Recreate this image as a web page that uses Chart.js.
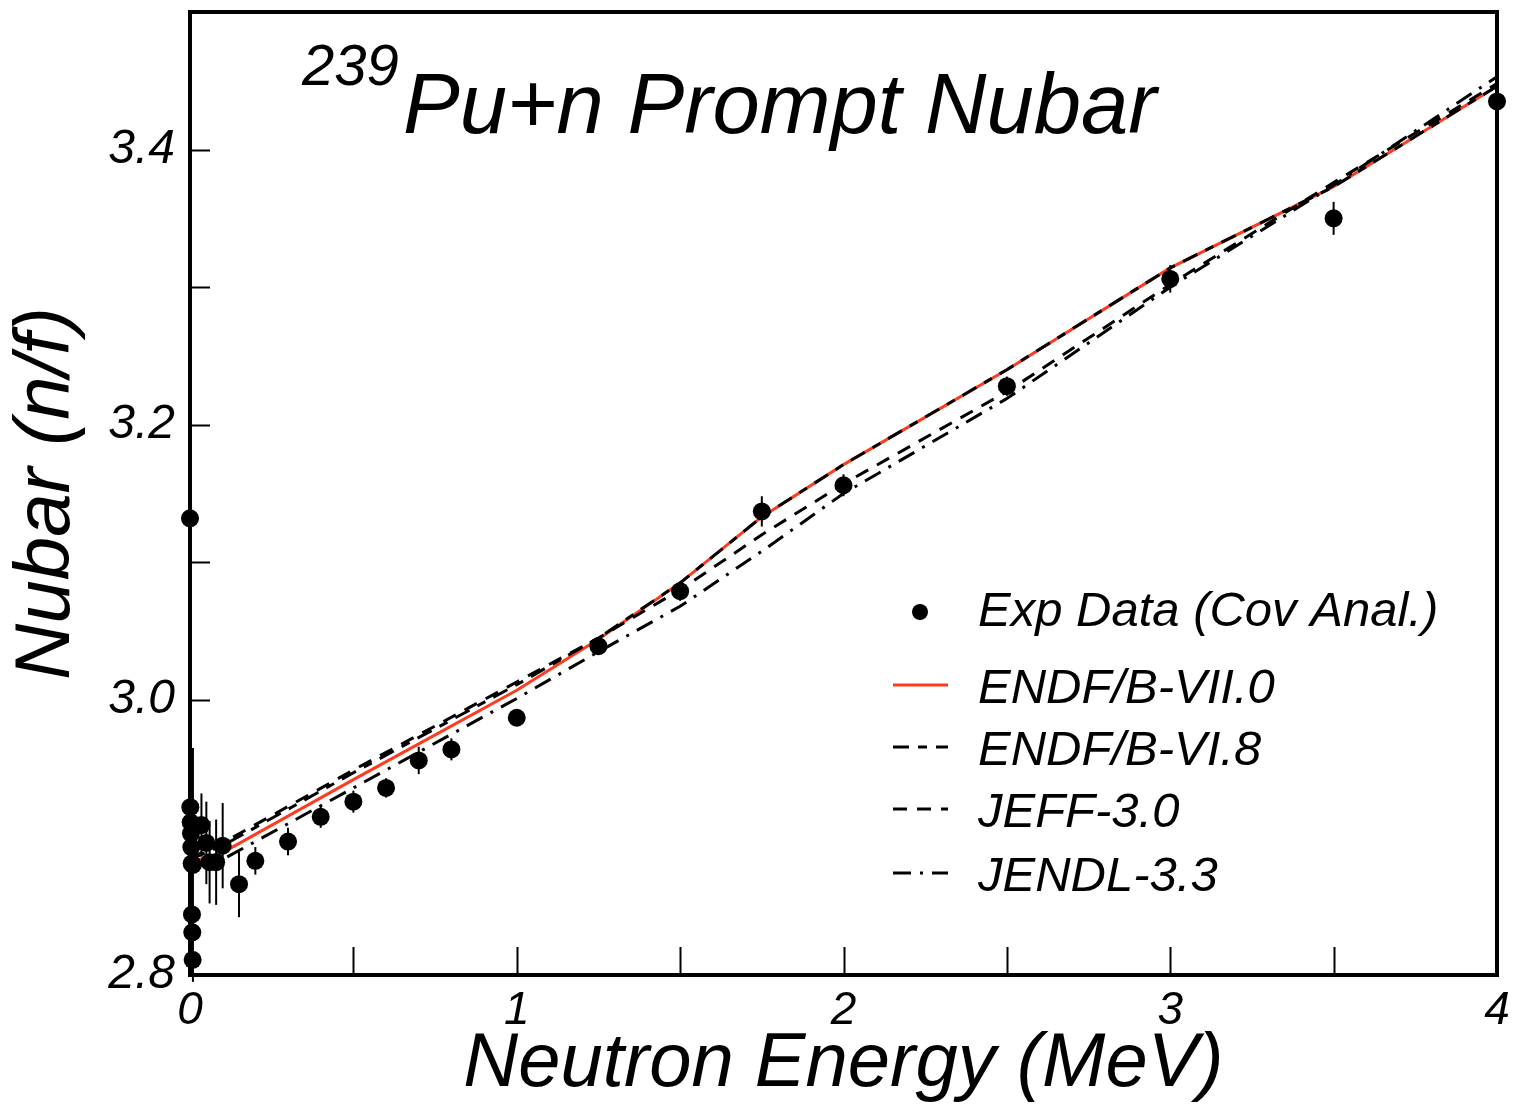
<!DOCTYPE html>
<html><head><meta charset="utf-8">
<script src="https://cdn.jsdelivr.net/npm/chart.js@4/dist/chart.umd.min.js"></script>
<style>html,body{margin:0;padding:0;background:#fff;overflow:hidden}#wrap{width:1515px;height:1110px}</style>
</head><body><div id="wrap"><canvas id="c" width="1515" height="1110"></canvas></div>
<script>
// ---- data ----
const expEnergy = [0.0, 0.001, 0.002, 0.003, 0.004, 0.005, 0.006, 0.007, 0.008, 0.009, 0.035, 0.05, 0.06, 0.08, 0.1, 0.15, 0.2, 0.3, 0.4, 0.5, 0.6, 0.7, 0.8, 1.0, 1.25, 1.5, 1.75, 2.0, 2.5, 3.0, 3.5, 4.0];
const expNubar = [3.132, 2.922, 2.911, 2.903, 2.893, 2.881, 2.844, 2.831, 2.811, 2.880, 2.909, 2.896, 2.882, 2.882, 2.894, 2.866, 2.883, 2.897, 2.915, 2.926, 2.936, 2.956, 2.964, 2.987, 3.039, 3.079, 3.137, 3.156, 3.228, 3.306, 3.350, 3.435];
const expError = [0.004, 0.012, 0.010, 0.010, 0.010, 0.010, 0.008, 0.008, 0.008, 0.085, 0.023, 0.030, 0.030, 0.031, 0.031, 0.024, 0.010, 0.010, 0.008, 0.008, 0.007, 0.010, 0.008, 0.006, 0.006, 0.007, 0.011, 0.008, 0.007, 0.010, 0.012, 0.010];

const evalEnergy = [0, 0.1, 0.5, 1.0, 1.25, 1.5, 1.75, 2.0, 2.5, 3.0, 3.5, 4.0];
const endfb70 = [2.882, 2.889, 2.942, 3.007, 3.044, 3.085, 3.133, 3.171, 3.240, 3.314, 3.373, 3.446];
const endfb68 = [2.884, 2.894, 2.947, 3.011, 3.045, 3.085, 3.133, 3.171, 3.240, 3.314, 3.373, 3.446];
const jeff30  = [2.885, 2.896, 2.949, 3.013, 3.045, 3.080, 3.120, 3.157, 3.224, 3.302, 3.376, 3.448];
const jendl33 = [2.878, 2.884, 2.936, 3.001, 3.035, 3.068, 3.108, 3.150, 3.219, 3.300, 3.374, 3.453];

const seriesNames = ['Exp Data (Cov Anal.)', 'ENDF/B-VII.0', 'ENDF/B-VI.8', 'JEFF-3.0', 'JENDL-3.3'];
const xTickLabels = ['0', '1', '2', '3', '4'];
const yTickLabels = ['2.8', '3.0', '3.2', '3.4'];
const titleMass = '239';
const titleText = 'Pu+n Prompt Nubar';
const xTitle = 'Neutron Energy (MeV)';
const yTitle = 'Nubar (n/f)';

// ---- styles ----
const FAM = '"Liberation Sans", Arial, sans-serif';
const RED = '#ff3b1f';
const DASH68 = [16, 9, 9, 9];
const DASHJEFF = [14, 10];
const DASHJENDL = [18, 9, 3, 9];

const pts = (xs, ys) => xs.map((x, i) => ({x: x, y: ys[i]}));

const errorBars = {
  id: 'errorBars',
  afterDatasetsDraw(chart) {
    const xs = chart.scales.x, ys = chart.scales.y, ctx = chart.ctx;
    ctx.save();
    ctx.strokeStyle = '#000'; ctx.lineWidth = 2;
    expEnergy.forEach((e, i) => {
      const px = xs.getPixelForValue(e);
      ctx.beginPath();
      ctx.moveTo(px, ys.getPixelForValue(expNubar[i] - expError[i]));
      ctx.lineTo(px, ys.getPixelForValue(expNubar[i] + expError[i]));
      ctx.stroke();
    });
    ctx.restore();
  }
};

const frame = {
  id: 'frame',
  afterDraw(chart) {
    const {ctx, chartArea: a} = chart;
    const xs = chart.scales.x, ys = chart.scales.y;
    ctx.save();
    ctx.strokeStyle = '#000';
    ctx.lineWidth = 2;
    xs.ticks.forEach(t => {
      if (t.value <= xs.min + 1e-9 || t.value >= xs.max - 1e-9) return;
      const px = Math.round(xs.getPixelForValue(t.value)) + 0.5;
      ctx.beginPath(); ctx.moveTo(px, a.bottom); ctx.lineTo(px, a.bottom - 28); ctx.stroke();
    });
    ys.ticks.forEach(t => {
      if (t.value <= ys.min + 1e-9 || t.value >= ys.max - 1e-9) return;
      const py = Math.round(ys.getPixelForValue(t.value)) + 0.5;
      ctx.beginPath(); ctx.moveTo(a.left, py); ctx.lineTo(a.left + 20, py); ctx.stroke();
    });
    ctx.lineWidth = 4;
    ctx.strokeRect(a.left, a.top, a.right - a.left, a.bottom - a.top);
    // title
    ctx.fillStyle = '#000';
    ctx.textBaseline = 'alphabetic';
    ctx.textAlign = 'left';
    ctx.font = 'italic 58px ' + FAM;
    ctx.fillText(titleMass, 302, 85);
    ctx.font = 'italic 85px ' + FAM;
    ctx.fillText(titleText, 403, 133);
    // legend
    ctx.font = 'italic 49px ' + FAM;
    ctx.textBaseline = 'middle';
    const rows = [610, 687, 749, 811, 875];
    const lx0 = 893, lx1 = 948, tx = 978;
    ctx.beginPath(); ctx.arc(920, rows[0] + 2, 8, 0, Math.PI * 2); ctx.fill();
    const styles = [[RED, []], ['#000', DASH68], ['#000', DASHJEFF], ['#000', DASHJENDL]];
    styles.forEach((s, i) => {
      ctx.strokeStyle = s[0]; ctx.lineWidth = 3; ctx.setLineDash(s[1]);
      ctx.beginPath(); ctx.moveTo(lx0, rows[i + 1] - 2); ctx.lineTo(lx1, rows[i + 1] - 2); ctx.stroke();
    });
    ctx.setLineDash([]);
    seriesNames.forEach((n, i) => ctx.fillText(n, tx, rows[i] + 2));
    ctx.restore();
  }
};

new Chart(document.getElementById('c'), {
  type: 'line',
  data: {
    datasets: [
      {label: seriesNames[0], data: pts(expEnergy, expNubar), showLine: false, pointRadius: 9, pointHoverRadius: 9,
       pointBackgroundColor: '#000', pointBorderWidth: 0, borderColor: '#000', backgroundColor: '#000', clip: false, order: 0},
      {label: seriesNames[2], data: pts(evalEnergy, endfb68), borderColor: '#000', borderWidth: 3, borderDash: DASH68, pointRadius: 0, tension: 0, order: 1},
      {label: seriesNames[3], data: pts(evalEnergy, jeff30), borderColor: '#000', borderWidth: 3, borderDash: DASHJEFF, pointRadius: 0, tension: 0, order: 2},
      {label: seriesNames[4], data: pts(evalEnergy, jendl33), borderColor: '#000', borderWidth: 3, borderDash: DASHJENDL, pointRadius: 0, tension: 0, order: 3},
      {label: seriesNames[1], data: pts(evalEnergy, endfb70), borderColor: RED, borderWidth: 3, pointRadius: 0, tension: 0, order: 4}
    ]
  },
  options: {
    responsive: false, animation: false, devicePixelRatio: 1,
    layout: {padding: {top: 12, right: 18, left: 0, bottom: 0}},
    plugins: {legend: {display: false}, tooltip: {enabled: false}, title: {display: false}},
    scales: {
      x: {
        type: 'linear', min: 0, max: 4,
        grid: {display: false, drawTicks: false}, border: {display: false},
        ticks: {stepSize: 0.5, autoSkip: false, maxRotation: 0, padding: 9, color: '#000',
          font: {family: FAM, size: 46, style: 'italic'},
          callback: v => { const r = Math.round(v * 2); return r % 2 === 0 ? xTickLabels[r / 2] : ''; }},
        title: {display: true, text: xTitle, color: '#000', padding: 0, font: {family: FAM, size: 76, style: 'italic'}},
        afterFit: s => { s.height = 135; s.paddingLeft = 0; s.paddingRight = 0; }
      },
      y: {
        type: 'linear', min: 2.8, max: 3.5,
        grid: {display: false, drawTicks: false}, border: {display: false},
        ticks: {stepSize: 0.1, autoSkip: false, padding: 15, color: '#000',
          font: {family: FAM, size: 48, style: 'italic'},
          callback: v => { const r = Math.round(v * 10); return (r % 2 === 0) ? (yTickLabels[(r - 28) / 2] || '') : ''; }},
        title: {display: true, text: yTitle, color: '#000', padding: 0, font: {family: FAM, size: 78, style: 'italic'}},
        afterFit: s => { s.width = 190; s.paddingTop = 0; s.paddingBottom = 0; }
      }
    }
  },
  plugins: [errorBars, frame]
});
</script>
</body></html>
